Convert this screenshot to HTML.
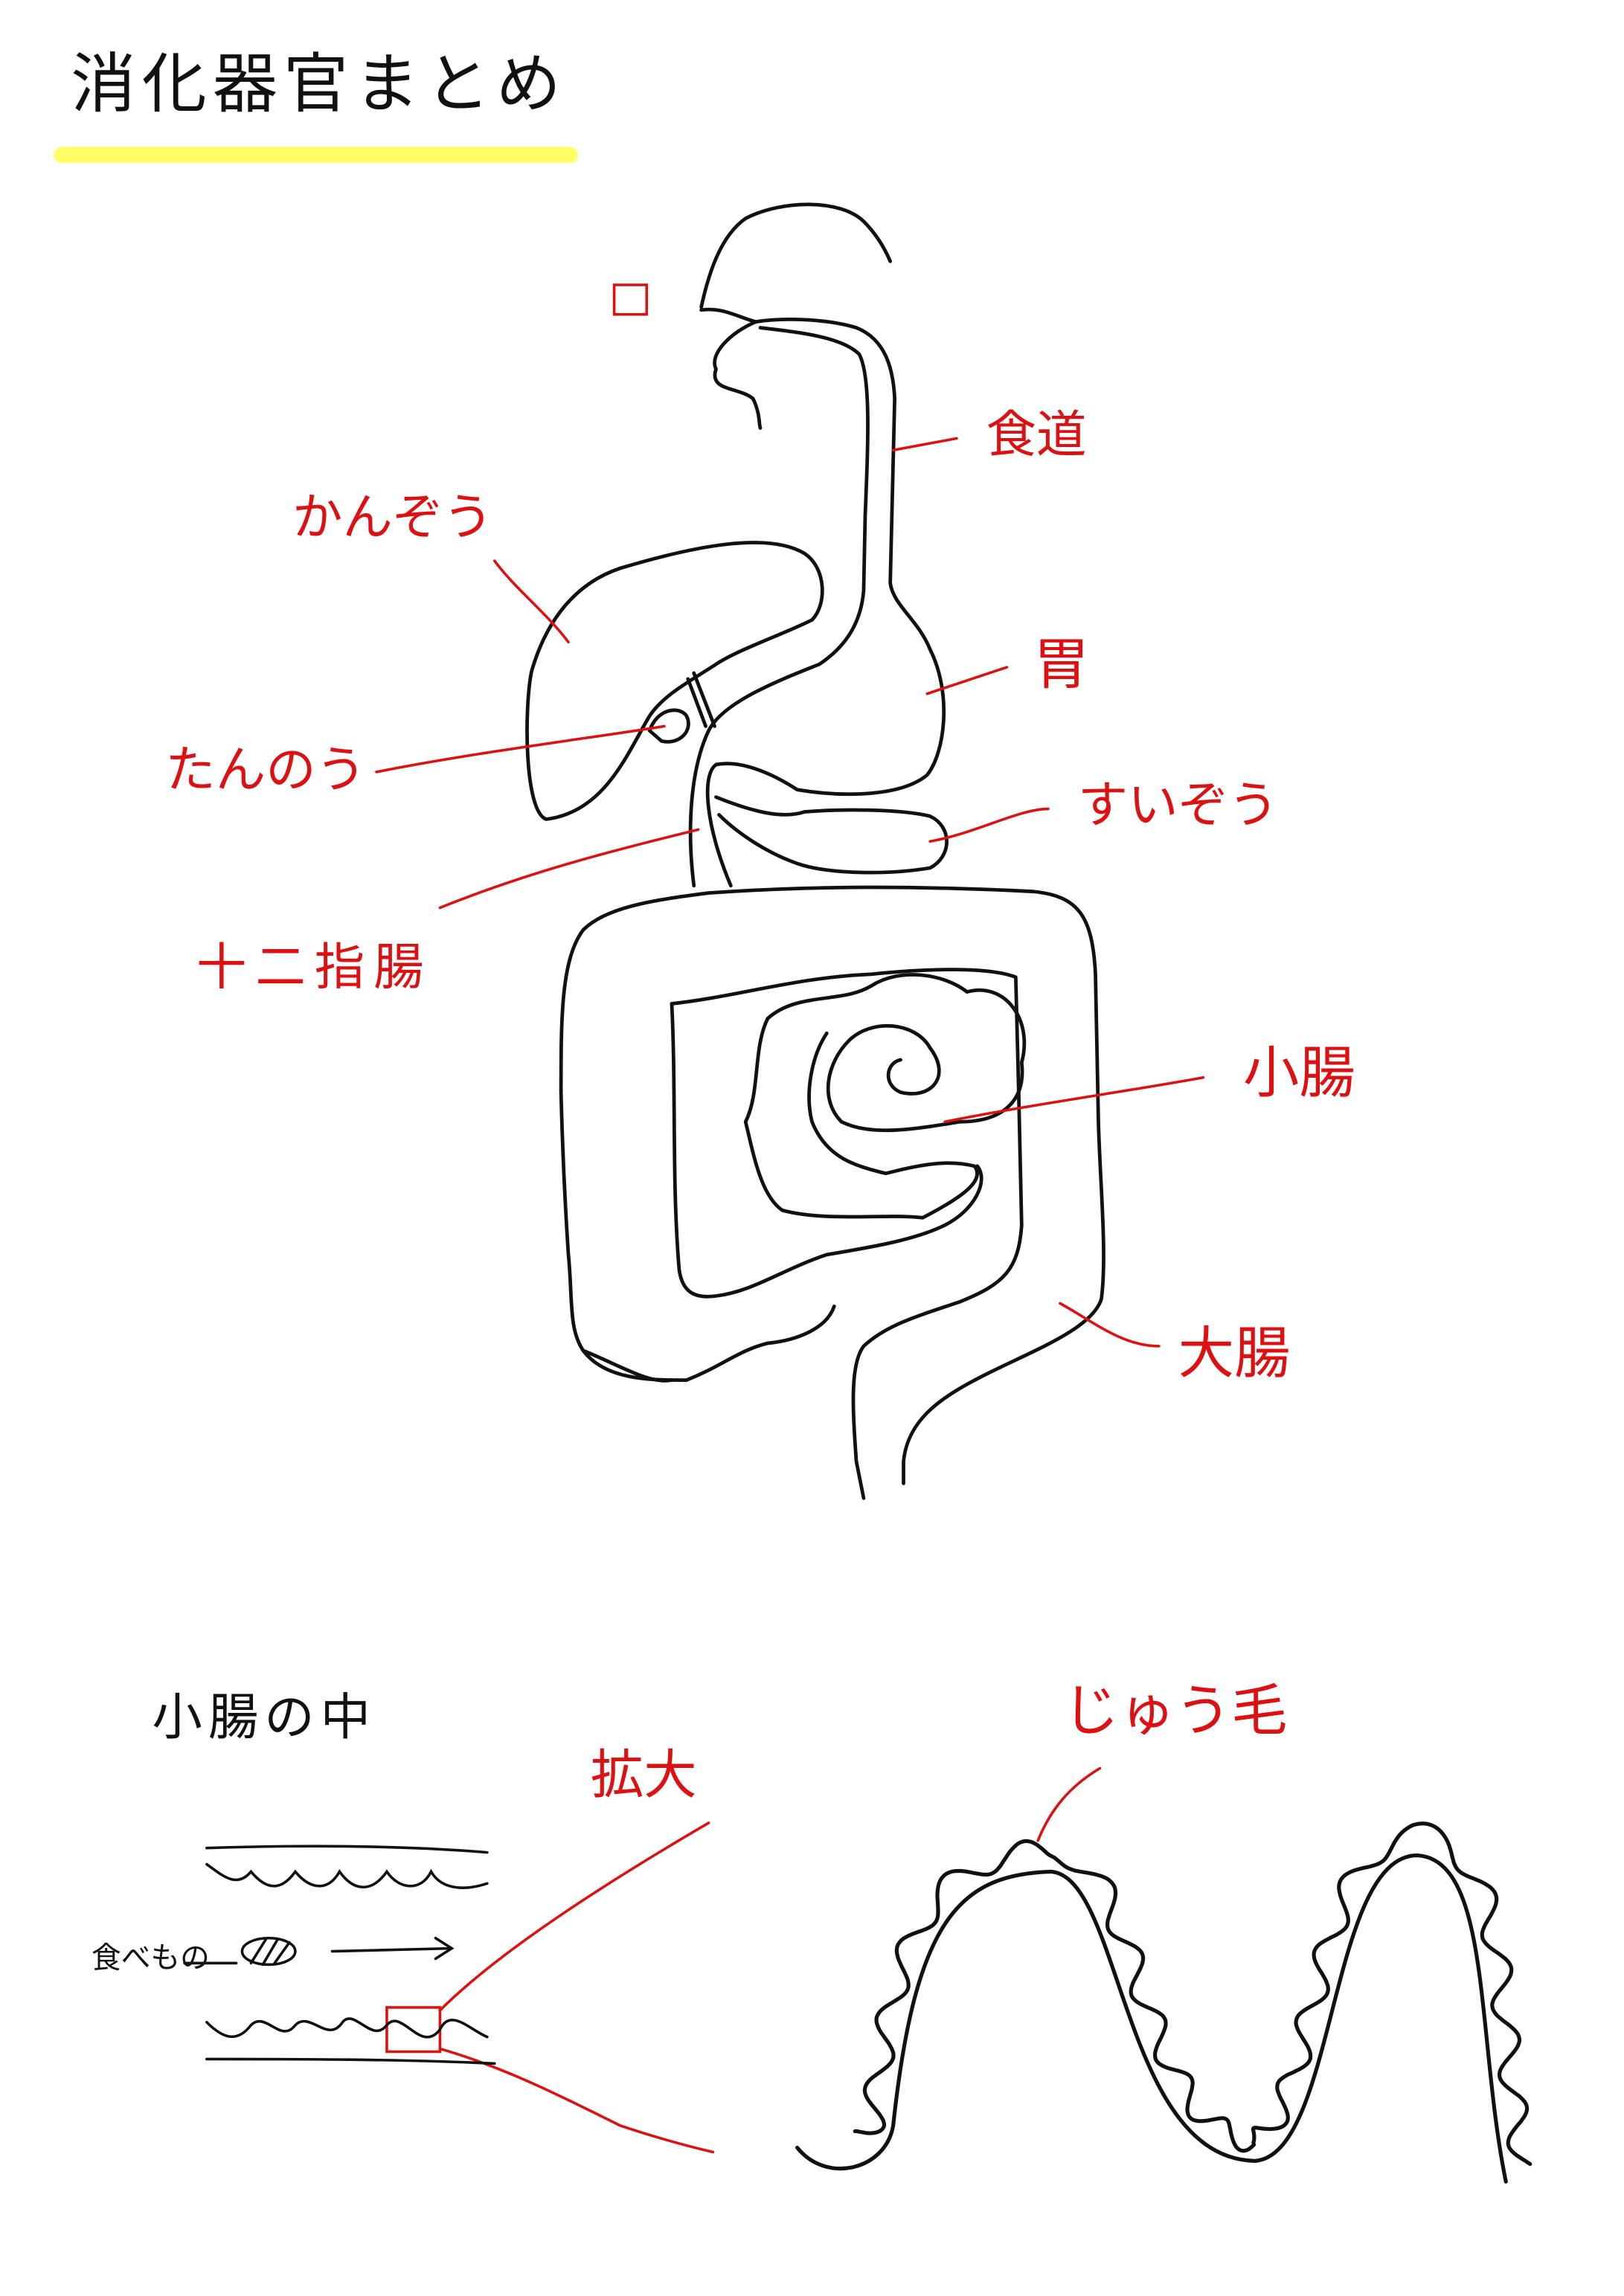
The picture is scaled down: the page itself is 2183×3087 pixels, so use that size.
<!DOCTYPE html>
<html><head><meta charset="utf-8"><style>
html,body{margin:0;padding:0;background:#fff}
svg{display:block}
.r{fill:#d11;font-family:"Liberation Sans","Noto Sans CJK JP",sans-serif}
.k{fill:#111;font-family:"Liberation Sans","Noto Sans CJK JP",sans-serif}
</style></head><body>
<svg id="s" width="2183" height="3087" viewBox="0 0 1100 1555.5" xmlns="http://www.w3.org/2000/svg">
<rect width="1100" height="1556" fill="#fff"/>
<text x="48" y="72" class="k" font-size="44" letter-spacing="4">消化器官まとめ</text>
<line x1="42" y1="105" x2="386" y2="105" stroke="#ffff66" stroke-width="11" stroke-linecap="round"/>
<g fill="none" stroke="#111" stroke-width="2.4" stroke-linecap="round" stroke-linejoin="round">
<path d="M475,208 C480,185 488,160 505,148 C530,135 570,135 585,150 C595,160 600,170 603,177"/>
<path d="M475,210 C490,208 500,215 512,218 C530,215 560,216 580,222 C600,230 605,250 606,270 L603,395 C605,410 622,420 630,440 C645,470 640,510 628,525 C610,540 570,540 540,535 C520,522 500,515 485,518 C475,525 478,560 495,600"/>
<path d="M512,218 C495,225 480,240 485,250 C480,265 500,262 510,270 C515,280 514,288 515,290"/>
<path d="M515,222 C540,225 570,228 582,240 C590,255 588,300 586,350 L585,400 C583,425 570,440 555,450 C530,460 490,475 480,495 C468,520 465,560 470,600"/>
<path d="M360,455 C370,420 390,395 420,385 C470,370 520,360 545,375 C560,385 560,410 550,420 C530,430 500,440 485,450 C470,460 450,470 440,485 C425,510 410,550 370,555 C355,550 355,480 360,455 Z"/>
<path d="M466,460 L478,492 M470,456 L484,492"/>
<path d="M440,495 C445,480 460,478 465,485 C470,495 460,505 448,502 Z"/>
<path d="M485,540 C510,550 530,555 545,550 C570,548 610,548 630,553 C645,560 645,580 630,588 C600,593 560,592 540,585 C520,578 500,565 487,552"/>
<path d="M480,605 C550,600 620,600 700,604 C730,607 740,620 742,660 L744,760 C745,800 750,850 746,880 C740,900 700,915 670,930 C640,945 615,960 612,990 L612,1005"/>
<path d="M455,680 C500,675 540,662 590,660 C630,656 670,655 688,662 L690,740 L692,830 C690,860 680,870 650,882 C620,892 600,898 585,912 C575,925 578,960 580,990 L585,1015"/>
<path d="M480,605 C440,610 410,615 395,630 C380,650 380,690 380,740 C381,780 383,820 385,850 C388,880 385,900 395,915 C410,935 440,935 465,935 C490,925 500,915 520,910 C540,908 560,900 565,885"/>
<path d="M455,680 C458,740 455,800 460,860 C462,875 470,880 485,878 C510,875 530,860 560,850 C590,845 620,840 640,830"/>
<path d="M520,690 C540,672 570,680 590,668 C610,655 640,660 655,672 C680,665 700,690 692,720 C695,745 680,760 650,760 C620,765 590,770 570,760 C555,745 560,720 575,705 C590,690 620,692 630,710 C645,730 630,745 610,740 C598,735 600,720 610,718"/>
<path d="M520,690 C510,710 515,740 505,760 C510,780 515,810 530,820 C560,828 600,822 625,825 C650,812 668,800 660,790 C640,785 620,790 600,795 C580,790 560,785 550,760 C545,740 550,715 560,700"/>
<path d="M640,830 C660,820 670,800 662,790"/>
<path d="M395,915 C420,925 440,938 455,935"/>
</g>
<g fill="none" stroke="#d11" stroke-width="1.8" stroke-linecap="round">
<rect x="416" y="193" width="22" height="20"/>
<path d="M605,305 L648,297"/>
<path d="M335,380 C350,400 370,415 385,435"/>
<path d="M628,470 L682,452"/>
<path d="M255,523 C320,510 400,500 450,492"/>
<path d="M630,570 C660,565 690,548 710,548"/>
<path d="M298,615 C360,590 420,575 473,562"/>
<path d="M640,760 C700,748 760,740 815,730"/>
<path d="M718,883 C740,895 760,912 785,912"/>
<path d="M703,1247 C712,1225 725,1210 745,1198"/>
<rect x="262" y="1360" width="36" height="30"/>
<path d="M298,1362 C340,1320 420,1270 480,1235"/>
<path d="M298,1388 C340,1400 380,1420 420,1440 C450,1450 470,1455 483,1458"/>
</g>
<g class="r" font-size="34">
<text x="668" y="306">食道</text>
<text x="198" y="362">かんぞう</text>
<text x="700" y="463" font-size="38">胃</text>
<text x="112" y="533">たんのう</text>
<text x="730" y="557">すいぞう</text>
<text x="133" y="667" letter-spacing="6">十二指腸</text>
<text x="842" y="740" font-size="38">小腸</text>
<text x="798" y="930" font-size="38">大腸</text>
<text x="400" y="1215" font-size="36">拡大</text>
<text x="720" y="1172" font-size="38">じゅう毛</text>
</g>
<text x="103" y="1175" class="k" font-size="34" letter-spacing="4">小腸の中</text>
<text x="62" y="1333" class="k" font-size="20">食べもの</text>
<g fill="none" stroke="#111" stroke-width="1.8" stroke-linecap="round">
<path d="M140,1252 C200,1250 270,1250 330,1255"/>
<path d="M140,1263 C150,1270 160,1280 170,1268 C180,1280 190,1282 200,1268 C210,1280 222,1282 230,1268 C240,1282 252,1282 262,1268 C270,1280 285,1282 292,1268 C300,1282 318,1280 330,1276"/>
<path d="M140,1370 C150,1380 160,1385 170,1372 C180,1362 190,1385 200,1372 C210,1362 222,1385 232,1370 C240,1360 252,1385 262,1372 C272,1360 285,1392 298,1375 C305,1360 318,1375 330,1380"/>
<path d="M140,1395 C200,1395 270,1395 335,1398"/>
<path d="M125,1330 L160,1330"/>
<ellipse cx="182" cy="1322" rx="18" ry="9"/>
<path d="M170,1330 L180,1314 M178,1331 L188,1314 M186,1330 L196,1316"/>
<path d="M225,1322 L305,1320 M295,1313 L306,1320 L295,1327"/>
</g>
<g id="villi" fill="none" stroke="#111" stroke-width="2.6" stroke-linecap="round" stroke-linejoin="round">
<path id="inner" d="M540,1455 C560,1480 600,1470 605,1440 C620,1300 650,1270 712,1268 C760,1272 760,1462 850,1464 C905,1460 900,1257 960,1257 C1010,1260 1000,1380 1020,1478"/>
<path id="outer" d=""/>
</g>
<script>
(function(){
var p=document.getElementById('inner');var L=p.getTotalLength();var d='';
for(var s=60;s<=L-8;s+=1.5){
 var a=p.getPointAtLength(s),b=p.getPointAtLength(Math.min(L,s+1));
 var dx=b.x-a.x,dy=b.y-a.y,n=Math.hypot(dx,dy)||1;
 var nx=dy/n,ny=-dx/n;
 var off=(14+8*Math.sin(s/7.5));
 var x=a.x+nx*off,y=a.y+ny*off;
 d+=(d?'L':'M')+x.toFixed(1)+','+y.toFixed(1);
}
document.getElementById('outer').setAttribute('d',d);
})();
</script>
</svg>
</body></html>
